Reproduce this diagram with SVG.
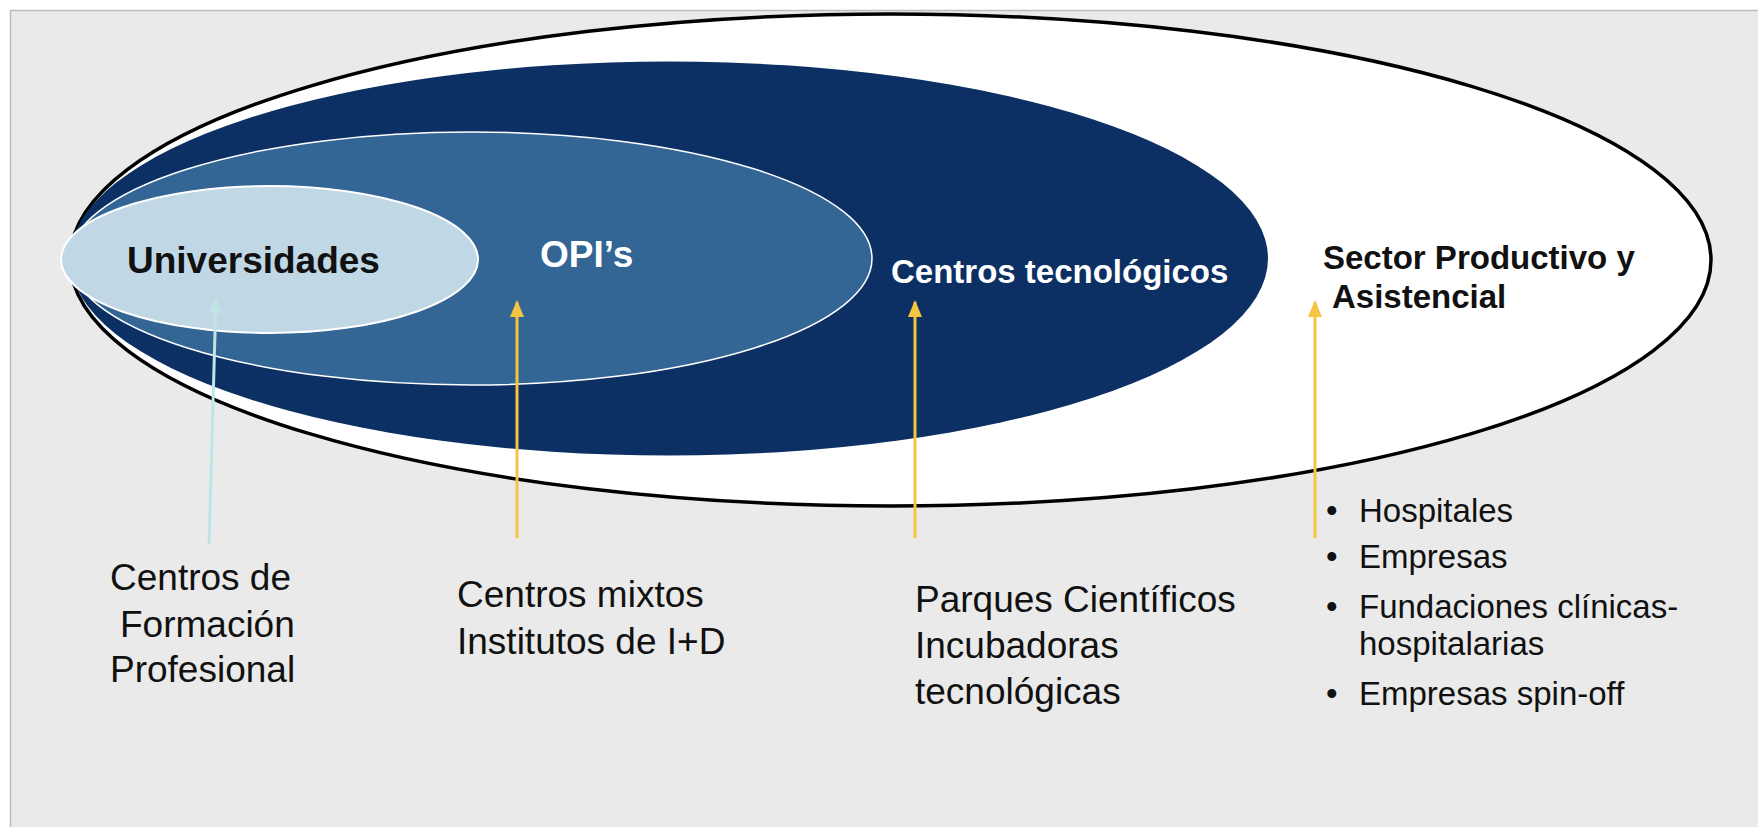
<svg xmlns="http://www.w3.org/2000/svg" width="1758" height="827" viewBox="0 0 1758 827">
<defs>
<style>
.t{font-family:"Liberation Sans",Arial,sans-serif;}
.b{font-weight:bold;}
.lbl{font-size:37px;fill:#111;}
.blt{font-size:33px;fill:#111;}
.ya{stroke:#F5C542;stroke-width:3;fill:none;}
</style>
<marker id="ay" viewBox="0 0 17 14" refX="15" refY="7" markerWidth="17" markerHeight="14" markerUnits="userSpaceOnUse" orient="auto">
<path d="M0,0 L17,7 L0,14 Z" fill="#F5C542"/>
</marker>
<marker id="ac" viewBox="0 0 17 14" refX="15" refY="7" markerWidth="17" markerHeight="14" markerUnits="userSpaceOnUse" orient="auto">
<path d="M0,0 L17,7 L0,14 Z" fill="#BFE4E4"/>
</marker>
</defs>
<rect x="0" y="0" width="1758" height="827" fill="#FFFFFF"/>
<rect x="10.5" y="10.5" width="1800" height="900" fill="#EAEAEA" stroke="#BDBDBD" stroke-width="1.5"/>

<g id="sector">
<ellipse cx="890.5" cy="260" rx="820.5" ry="246" fill="#FFFFFF" stroke="#000000" stroke-width="3.5"/>
</g>
<g id="centros-tecnologicos">
<ellipse cx="669" cy="258.5" rx="599" ry="197" fill="#0C3063"/>
</g>
<g id="opis">
<ellipse cx="471" cy="258.5" rx="401" ry="126.5" fill="#336595" stroke="#FFFFFF" stroke-width="1.5"/>
</g>
<g id="universidades">
<ellipse cx="269.5" cy="259.5" rx="208.5" ry="73.5" fill="#C0D7E6" stroke="#FFFFFF" stroke-width="2"/>
</g>

<g id="connectors">
<line x1="209" y1="544" x2="216" y2="298" stroke="#BFE4E4" stroke-width="3" marker-end="url(#ac)"/>
<line class="ya" x1="517" y1="538" x2="517" y2="302" marker-end="url(#ay)"/>
<line class="ya" x1="915" y1="538" x2="915" y2="302" marker-end="url(#ay)"/>
<line class="ya" x1="1315" y1="538" x2="1315" y2="302" marker-end="url(#ay)"/>
</g>

<g id="labels-in">
<text class="t b" x="127" y="273" font-size="37" fill="#111">Universidades</text>
<text class="t b" x="540" y="267" font-size="37" fill="#FFFFFF">OPI’s</text>
<text class="t b" x="891" y="283" font-size="33" fill="#FFFFFF">Centros tecnológicos</text>
<text class="t b" x="1323" y="269" font-size="33" fill="#111">Sector Productivo y</text>
<text class="t b" x="1332" y="308" font-size="33" fill="#111">Asistencial</text>
</g>

<g id="centros-fp">
<text class="t lbl" x="110" y="590">Centros de</text>
<text class="t lbl" x="120" y="637">Formación</text>
<text class="t lbl" x="110" y="682">Profesional</text>
</g>
<g id="centros-mixtos">
<text class="t lbl" x="457" y="607">Centros mixtos</text>
<text class="t lbl" x="457" y="654">Institutos de I+D</text>
</g>
<g id="parques">
<text class="t lbl" x="915" y="612">Parques Científicos</text>
<text class="t lbl" x="915" y="658">Incubadoras</text>
<text class="t lbl" x="915" y="704">tecnológicas</text>
</g>
<g id="lista-sector">
<text class="t blt" x="1326" y="522">•</text>
<text class="t blt" x="1359" y="522">Hospitales</text>
<text class="t blt" x="1326" y="568">•</text>
<text class="t blt" x="1359" y="568">Empresas</text>
<text class="t blt" x="1326" y="618">•</text>
<text class="t blt" x="1359" y="618">Fundaciones clínicas-</text>
<text class="t blt" x="1359" y="655">hospitalarias</text>
<text class="t blt" x="1326" y="705">•</text>
<text class="t blt" x="1359" y="705">Empresas spin-off</text>
</g>
</svg>
